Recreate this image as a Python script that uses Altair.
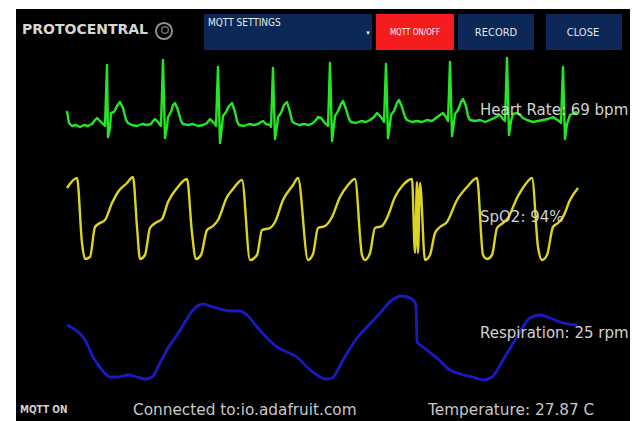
import altair as alt
import pandas as pd

# ---------------- data ----------------
# ECG trace: sample index and amplitude (arbitrary units, 0 = baseline)
ecg_t = [0, 2, 5, 9, 13, 17, 21, 25, 28, 30, 33, 36, 38, 40, 41, 43, 44, 47, 50, 53, 56, 59, 61, 65, 70, 75, 80,
         84, 86, 88, 91, 93, 94, 96, 98, 100, 101, 104, 106, 108, 111, 114, 116, 121, 126, 131, 136,
         140, 143, 146, 148, 149, 151, 153, 155, 156, 159, 162, 165, 168, 170, 172, 177, 182, 187,
         191, 194, 196, 199, 203, 204, 206, 208, 210, 211, 214, 217, 220, 223, 225, 227, 232, 237, 242,
         246, 249, 251, 254, 258, 260, 261, 263, 265, 267, 268, 271, 274, 276, 279, 282, 284, 289, 294, 299,
         303, 307, 310, 313, 316, 317, 319, 321, 323, 324, 327, 330, 332, 335, 338, 340, 345, 350, 355, 360, 365,
         369, 373, 376, 379, 381, 383, 385, 387, 388, 391, 394, 396, 399, 401, 403, 408, 413, 418, 423,
         427, 431, 433, 436, 438, 440, 442, 444, 446, 450, 453, 456, 460, 466, 471, 476, 481, 486,
         489, 492, 494, 496, 498, 500, 503, 507, 510]
ecg_v = [14, 2, -1, 0, -2, 0, -1, 1, 5, 7, 4, 1, -1, 60, -12, -3, 12, 13, 19, 23, 17, 5, 2, 0, -1, 1, 0,
         1, 4, 6, 3, 0, -1, 65, -13, -2, 8, 13, 20, 22, 15, 4, 1, 0, 1, -1, 0,
         2, 6, 3, 1, -1, 58, -18, -1, 9, 13, 19, 22, 13, 4, 0, -1, 1, 0,
         1, 3, 4, 1, 0, -2, 57, -14, -1, 8, 12, 20, 23, 13, 4, 2, 0, 1, 0,
         2, 5, 8, 7, 2, 0, -1, 62, -16, 0, 9, 14, 21, 24, 16, 6, 3, 2, 4, 3,
         5, 8, 12, 9, 5, 3, 61, -13, 1, 10, 14, 22, 25, 18, 8, 5, 3, 4, 3, 5, 4,
         7, 10, 12, 8, 4, 63, -11, 3, 11, 15, 23, 26, 19, 9, 5, 4, 5, 3, 5,
         7, 9, 10, 6, 4, 67, -10, 4, 11, 12, 10, 7, 5, 3, 4, 5, 6, 8,
         6, 4, 2, 58, -14, 1, 10, 12, 13]

# SpO2 pleth trace
ppg_t = [0, 10, 15, 18, 23, 28, 33, 38, 45, 51, 60, 66, 70, 73, 78, 83, 90, 95, 101, 110, 120, 125, 129, 134,
         140, 146, 151, 160, 166, 175, 183, 190, 195, 203, 208, 216, 226, 231, 241, 246, 251, 258, 265,
         273, 281, 288, 295, 298, 303, 308, 315, 320, 328, 336, 345, 348, 350, 351, 353, 358, 363, 368,
         373, 380, 390, 400, 410, 416, 420, 425, 430, 436, 441, 450, 458, 465, 471, 475, 480, 486, 491,
         496, 503, 511]
ppg_v = [72, 82, 17, 1, 3, 33, 37, 40, 57, 68, 77, 83, 33, 1, 5, 32, 38, 41, 58, 72, 81, 27, 1, 5,
         30, 34, 40, 63, 71, 80, 0, 5, 30, 32, 38, 60, 75, 82, 0, 6, 32, 34, 43,
         63, 75, 81, 5, 0, 7, 32, 34, 42, 63, 75, 81, 7, 78, 7, 77, 0, 5, 27,
         33, 38, 60, 73, 82, 5, 1, 5, 32, 37, 42, 62, 75, 82, 13, 0, 5, 33, 37,
         43, 60, 72]

# Respiration trace
resp_t = [0, 11, 18, 26, 35, 43, 51, 61, 70, 78, 85, 93, 101, 110, 118, 126, 136, 143, 153, 163, 173,
          180, 190, 200, 210, 220, 230, 240, 250, 258, 265, 276, 290, 300, 313, 325, 335, 345, 349, 350,
          356, 370, 383, 393, 406, 416, 425, 436, 450, 463, 473, 483, 496, 510]
resp_v = [55, 48, 40, 23, 10, 3, 3, 5, 3, 1, 3, 17, 32, 45, 58, 70, 76, 74, 71, 69, 69,
          65, 53, 42, 33, 28, 23, 13, 5, 1, 2, 20, 42, 53, 67, 80, 84, 81, 75, 38,
          33, 22, 10, 6, 3, 0, 3, 20, 43, 62, 65, 62, 57, 55]

readout_labels = ["Heart Rate: 69 bpm", "SpO2: 94%", "Respiration: 25 rpm"]
button_labels = ["MQTT SETTINGS", "MQTT ON/OFF", "RECORD", "CLOSE"]
footer_labels = ["MQTT ON", "Connected to:io.adafruit.com", "Temperature: 27.87 C"]
brand = "PROTOCENTRAL"

# ---------------- chart ----------------
W, H = 624, 413
one = pd.DataFrame({"k": [0]})
base = alt.Chart(one)


def box(x0, x1, y0, y1, color):
    return base.mark_rect(color=color).encode(
        x=alt.value(x0), x2=alt.value(x1), y=alt.value(y0), y2=alt.value(y1))


def label(txt, x, y, size, color="#e6e6e6", align="left", font="DejaVu Sans", weight="normal"):
    return base.mark_text(align=align, baseline="middle", fontSize=size, font=font,
                          fontWeight=weight, color=color).encode(
        x=alt.value(x), y=alt.value(y), text=alt.value(txt))


panel = box(8, 622, 1, H, "#000000")
navy = "#0b2856"
btns = [box(196, 364, 6, 42, navy), box(368, 446, 6, 42, "#f41c1c"),
        box(450, 526, 6, 42, navy), box(538, 614, 6, 42, navy)]

x_enc = alt.X("t:Q", scale=alt.Scale(domain=[0, 510], range=[59, 569], nice=False, zero=False), axis=None)

ecg = alt.Chart(pd.DataFrame({"t": ecg_t, "v": ecg_v})).mark_line(
    color="#25e625", strokeWidth=2.4, strokeJoin="round").encode(
    x=x_enc,
    y=alt.Y("v:Q", scale=alt.Scale(domain=[-20, 80], range=[137, 37], nice=False, zero=False), axis=None))

ppg = alt.Chart(pd.DataFrame({"t": ppg_t, "v": ppg_v})).mark_line(
    color="#dcd41e", strokeWidth=2.4, interpolate="monotone").encode(
    x=x_enc,
    y=alt.Y("v:Q", scale=alt.Scale(domain=[0, 100], range=[252, 152], nice=False, zero=False), axis=None))

resp = alt.Chart(pd.DataFrame({"t": resp_t, "v": resp_v})).mark_line(
    color="#1a1ac4", strokeWidth=2.8, interpolate="monotone").encode(
    x=x_enc,
    y=alt.Y("v:Q", scale=alt.Scale(domain=[0, 100], range=[372, 272], nice=False, zero=False), axis=None))

logo_ring = base.mark_point(shape="circle", filled=False, size=260, strokeWidth=2,
                            color="#cfcfcf").encode(x=alt.value(156), y=alt.value(23))
logo_in = base.mark_point(shape="circle", filled=False, size=45, strokeWidth=1.5,
                          color="#9a9a9a").encode(x=alt.value(157), y=alt.value(22))

texts = [
    label(brand, 14, 22, 14, "#d6d6d6", weight="bold"),
    label(button_labels[0], 200, 15, 10, "#e8e8e8", font="DejaVu Sans Condensed"),
    label("\u25be", 360, 25, 7, "#e8e8e8", align="center"),
    label(button_labels[1], 407, 25, 8, "#f4f4f4", align="center", font="DejaVu Sans Condensed"),
    label(button_labels[2], 488, 25, 11, "#e4e4e4", align="center", font="DejaVu Sans Condensed"),
    label(button_labels[3], 575, 25, 11, "#e4e4e4", align="center", font="DejaVu Sans Condensed"),
    label(readout_labels[0], 472, 102, 15, "#d2d2d2"),
    label(readout_labels[1], 472, 209, 15, "#d2d2d2"),
    label(readout_labels[2], 472, 325, 15, "#d2d2d2"),
    label(footer_labels[0], 12, 402, 10, "#d0d0d0", font="DejaVu Sans Condensed", weight="bold"),
    label(footer_labels[1], 125, 402, 15.3, "#c8c8c8"),
    label(footer_labels[2], 420, 402, 15.3, "#c8c8c8"),
]

chart = alt.layer(panel, *btns, ecg, ppg, resp, logo_ring, logo_in, *texts).resolve_scale(
    y="independent"
).properties(
    width=W, height=H, background="white", padding=0, autosize="none"
).configure_view(stroke=None)

chart.save("out.html", embed_options={"renderer": "svg", "actions": False})
